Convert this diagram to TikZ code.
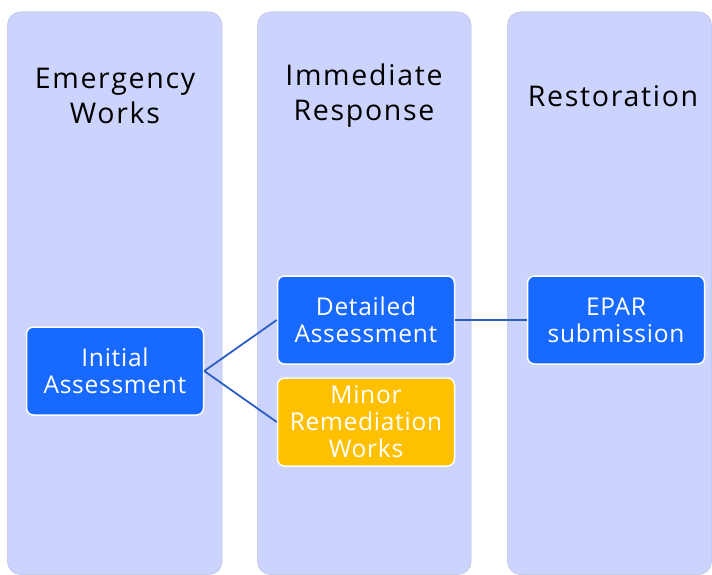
\documentclass[tikz,border=0pt]{standalone}
\usepackage{fontspec}
\setmainfont{Open Sans}
\newfontfamily\headfont[LetterSpace=6]{Open Sans}
\newfontfamily\stepfont[LetterSpace=3]{Open Sans}
\usepackage{xcolor}
\usepackage{tikz}

\definecolor{lanefill}{HTML}{CCD4FE}
\definecolor{laneedge}{HTML}{B6BCE0}
\definecolor{stepblue}{HTML}{1769FF}
\definecolor{stepyellow}{HTML}{FFC000}
\definecolor{linkblue}{HTML}{2A5EC4}

\begin{document}
\begin{tikzpicture}[x=1pt,y=-1pt,
    lane/.style={fill=lanefill,draw=laneedge,line width=.5pt,rounded corners=13pt},
    phase/.style={align=center,font=\headfont\fontsize{28.5}{35}\selectfont},
    task/.style={draw=white,line width=1.5pt,rounded corners=7pt,fill=stepblue,
      text=white,align=center,minimum width=177pt,minimum height=88pt,
      inner sep=0pt,font=\stepfont\fontsize{24.5}{27}\selectfont},
    link/.style={draw=linkblue,line width=1.8pt}]
  \useasboundingbox (0,0) rectangle (712,575);
  % phase lanes
  \draw[lane] (  7.5,12) rectangle (222,574.5);
  \draw[lane] (257.5,12) rectangle (471,574.5);
  \draw[lane] (507.5,12) rectangle (711.5,574.5);
  \node[phase] (emerg)  at (115,96) {Emergency\\Works};
  \node[phase] (immed)  at (364,96) {Immediate\\Response};
  \node[phase] (restor) at (613,96) {Restoration};
  % steps
  \node[task] (initial)  at (115,371) {Initial\\Assessment};
  \node[task] (detailed) at (366,320) {Detailed\\Assessment};
  \node[task,fill=stepyellow] (minor) at (366,422) {Minor\\Remediation\\Works};
  \node[task] (epar)     at (616,320) {EPAR\\submission};
  % links
  \draw[link] (initial.east) -- (detailed.west);
  \draw[link] (initial.east) -- (minor.west);
  \draw[link] (detailed.east) -- (epar.west);
\end{tikzpicture}
\end{document}
